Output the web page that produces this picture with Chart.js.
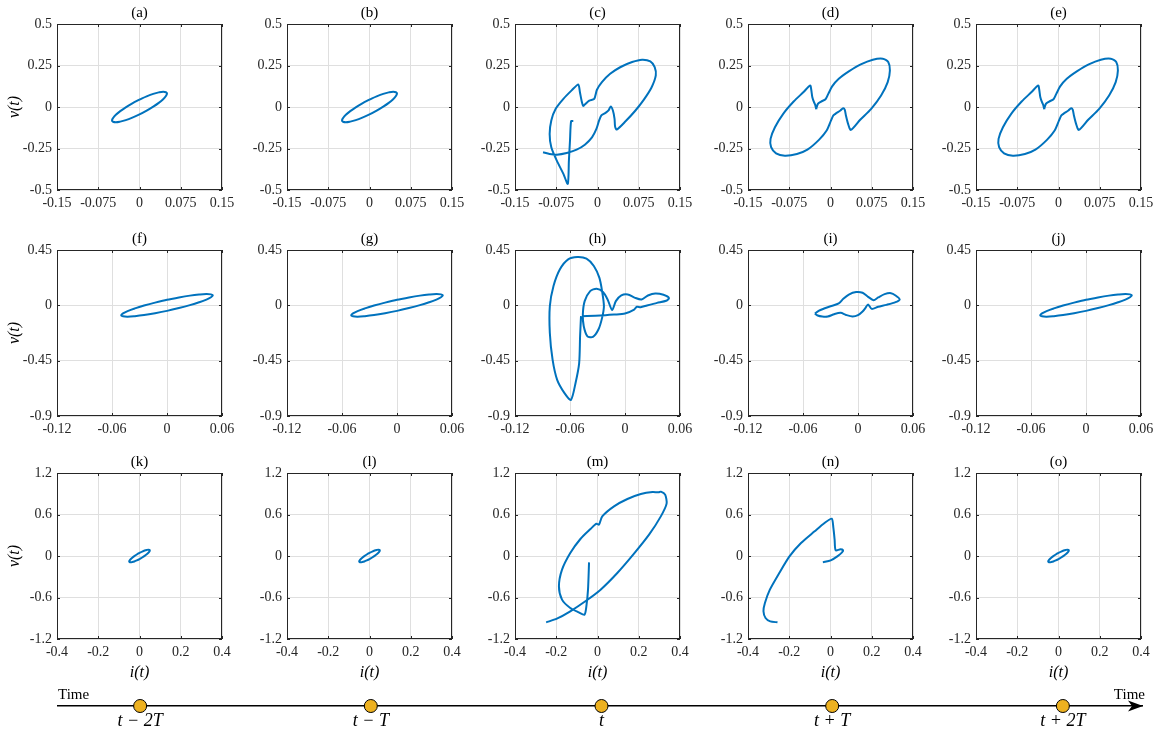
<!DOCTYPE html>
<html>
<head>
<meta charset="utf-8">
<script src="https://cdn.jsdelivr.net/npm/chart.js@4.4.1/dist/chart.umd.min.js"></script>
<style>
  body { margin: 0; background: #fff; }
  #figure { position: relative; width: 1168px; height: 736px; overflow: hidden; background: #fff; }
  #figure canvas { position: absolute; }
</style>
</head>
<body>
<div id="figure"></div>
<script>
// panel titles, row by row
const panelTitles = ['(a)', '(b)', '(c)', '(d)', '(e)',
                     '(f)', '(g)', '(h)', '(i)', '(j)',
                     '(k)', '(l)', '(m)', '(n)', '(o)'];

// axis ranges and ticks per row
const xRanges = [[-0.15, 0.15], [-0.12, 0.06], [-0.4, 0.4]];
const yRanges = [[-0.5, 0.5], [-0.9, 0.45], [-1.2, 1.2]];
const xTicksByRow = [[-0.15, -0.075, 0, 0.075, 0.15], [-0.12, -0.06, 0, 0.06], [-0.4, -0.2, 0, 0.2, 0.4]];
const yTicksByRow = [[-0.5, -0.25, 0, 0.25, 0.5], [-0.9, -0.45, 0, 0.45], [-1.2, -0.6, 0, 0.6, 1.2]];

// v-i trajectories, [i, v] pairs
const steadyLoop = [
  [0.000, 0.045], [-0.013, 0.022], [-0.025, -0.002], [-0.035, -0.025], [-0.043, -0.047], [-0.048, -0.066],
  [-0.050, -0.081], [-0.048, -0.089], [-0.043, -0.092], [-0.035, -0.088], [-0.025, -0.079], [-0.013, -0.064],
  [0.000, -0.045], [0.013, -0.022], [0.025, 0.002], [0.035, 0.025], [0.043, 0.047], [0.048, 0.066],
  [0.050, 0.081], [0.048, 0.089], [0.043, 0.092], [0.035, 0.088], [0.025, 0.079], [0.013, 0.064],
  [0.000, 0.045]
];

const loopC = [
  [-0.099, -0.273], [-0.087, -0.283], [-0.074, -0.287], [-0.056, -0.277], [-0.038, -0.257], [-0.023, -0.227],
  [-0.010, -0.183], [-0.002, -0.132], [0.003, -0.081], [0.007, -0.051], [0.014, -0.037], [0.020, -0.021],
  [0.024, 0.003], [0.028, -0.021], [0.031, -0.071], [0.032, -0.118], [0.035, -0.136], [0.051, -0.086],
  [0.069, -0.021], [0.084, 0.043], [0.098, 0.116], [0.106, 0.190], [0.104, 0.240], [0.096, 0.275],
  [0.081, 0.285], [0.063, 0.271], [0.042, 0.241], [0.023, 0.200], [0.008, 0.150], [-0.001, 0.104],
  [-0.006, 0.049], [-0.015, 0.039], [-0.023, 0.015], [-0.026, 0.007], [-0.029, 0.039], [-0.032, 0.090],
  [-0.035, 0.136], [-0.047, 0.100], [-0.062, 0.049], [-0.076, -0.011], [-0.084, -0.081], [-0.087, -0.162],
  [-0.084, -0.242], [-0.074, -0.323], [-0.062, -0.403], [-0.054, -0.463], [-0.052, -0.323], [-0.050, -0.202],
  [-0.048, -0.085], [-0.044, -0.085]
];

const loopD = [
  [-0.026, -0.013], [-0.023, 0.019], [-0.017, 0.033], [-0.009, 0.047], [-0.004, 0.079], [0.003, 0.124],
  [0.015, 0.170], [0.034, 0.216], [0.055, 0.257], [0.077, 0.285], [0.095, 0.291], [0.105, 0.271],
  [0.108, 0.220], [0.104, 0.150], [0.092, 0.069], [0.074, -0.011], [0.054, -0.077], [0.037, -0.138],
  [0.032, -0.102], [0.028, -0.051], [0.026, -0.017], [0.023, -0.007], [0.018, -0.021], [0.009, -0.041],
  [0.005, -0.051], [0.001, -0.081], [-0.007, -0.142], [-0.021, -0.198], [-0.042, -0.257], [-0.061, -0.283],
  [-0.083, -0.293], [-0.099, -0.279], [-0.108, -0.242], [-0.109, -0.192], [-0.101, -0.122], [-0.086, -0.041],
  [-0.067, 0.033], [-0.049, 0.090], [-0.037, 0.130], [-0.035, 0.104], [-0.033, 0.059], [-0.030, 0.029],
  [-0.028, 0.015], [-0.026, -0.013]
];

const loopH = [
  [-0.048, -0.088], [-0.049, -0.252], [-0.050, -0.470], [-0.054, -0.633], [-0.059, -0.769], [-0.066, -0.714],
  [-0.074, -0.606], [-0.079, -0.442], [-0.082, -0.225], [-0.082, -0.007], [-0.078, 0.157], [-0.071, 0.293],
  [-0.062, 0.374], [-0.052, 0.393], [-0.042, 0.380], [-0.034, 0.320], [-0.028, 0.225], [-0.025, 0.116],
  [-0.023, -0.007], [-0.025, -0.102], [-0.029, -0.197], [-0.035, -0.257], [-0.041, -0.252], [-0.045, -0.170],
  [-0.046, -0.075], [-0.044, 0.034], [-0.038, 0.116], [-0.031, 0.135], [-0.024, 0.108], [-0.019, 0.048],
  [-0.014, -0.039], [-0.010, 0.034], [-0.004, 0.080], [0.003, 0.088], [0.011, 0.061], [0.018, 0.048],
  [0.025, 0.080], [0.033, 0.097], [0.042, 0.086], [0.048, 0.059], [0.045, 0.037], [0.035, 0.020],
  [0.024, -0.001], [0.017, -0.015], [0.013, -0.012], [0.010, -0.034], [0.000, -0.067], [-0.012, -0.075],
  [-0.027, -0.083], [-0.047, -0.088]
];

const loopI = [
  [-0.047, -0.067], [-0.043, -0.045], [-0.037, -0.026], [-0.030, -0.007], [-0.021, 0.015], [-0.016, 0.053],
  [-0.010, 0.088], [-0.002, 0.108], [0.005, 0.102], [0.011, 0.069], [0.017, 0.042], [0.022, 0.064],
  [0.029, 0.091], [0.036, 0.099], [0.041, 0.080], [0.0455, 0.048], [0.041, 0.026], [0.031, 0.004],
  [0.022, -0.012], [0.015, -0.029], [0.011, 0.007], [0.008, -0.023], [0.005, -0.050], [0.000, -0.080],
  [-0.006, -0.091], [-0.013, -0.078], [-0.019, -0.061], [-0.026, -0.072], [-0.033, -0.091], [-0.039, -0.091],
  [-0.044, -0.083], [-0.047, -0.067]
];

const loopM = [
  [-0.249, -0.959], [-0.197, -0.906], [-0.132, -0.800], [-0.059, -0.655], [0.015, -0.487], [0.096, -0.246],
  [0.177, 0.034], [0.250, 0.308], [0.307, 0.573], [0.335, 0.757], [0.328, 0.887], [0.307, 0.930],
  [0.296, 0.920], [0.267, 0.925], [0.210, 0.896], [0.145, 0.824], [0.080, 0.718], [0.023, 0.573],
  [0.007, 0.453], [-0.005, 0.467], [-0.034, 0.390], [-0.083, 0.246], [-0.132, 0.043], [-0.172, -0.198],
  [-0.187, -0.439], [-0.172, -0.631], [-0.132, -0.752], [-0.091, -0.814], [-0.063, -0.848], [-0.054, -0.728],
  [-0.046, -0.487], [-0.041, -0.092]
];

const loopN = [
  [-0.037, -0.092], [0.001, -0.063], [0.033, -0.005], [0.056, 0.053], [0.061, 0.082], [0.048, 0.096],
  [0.025, 0.082], [0.020, 0.236], [0.014, 0.405], [0.006, 0.540], [-0.029, 0.477], [-0.077, 0.357],
  [-0.143, 0.188], [-0.199, -0.005], [-0.253, -0.270], [-0.294, -0.487], [-0.318, -0.680], [-0.325, -0.800],
  [-0.315, -0.896], [-0.292, -0.945], [-0.257, -0.959]
];

const panelCurves = [steadyLoop, steadyLoop, loopC, loopD, loopD,
                     steadyLoop, steadyLoop, loopH, loopI, steadyLoop,
                     steadyLoop, steadyLoop, loopM, loopN, steadyLoop];

// time axis at the bottom
const timePoints = [-2, -1, 0, 1, 2];
const timeLabels = ['t \u2212 2T', 't \u2212 T', 't', 't + T', 't + 2T'];

// layout
const colLeft = [57, 287, 515, 748, 976];
const rowTop = [24, 250, 473];
const PLOT_W = 165, PLOT_H = 166;
const AXIS_W = 56, PAD_TOP = 24, PAD_RIGHT = 24, AXIS_H = 45;
const SERIF = '"Liberation Serif", "DejaVu Serif", serif';
const LINE_BLUE = '#0072BD';
const GRID_GREY = '#dfdfdf';

const figure = document.getElementById('figure');

function makeCanvas(left, top, width, height) {
  const c = document.createElement('canvas');
  c.width = width;
  c.height = height;
  c.style.left = left + 'px';
  c.style.top = top + 'px';
  c.style.width = width + 'px';
  c.style.height = height + 'px';
  figure.appendChild(c);
  return c;
}

// box, inward ticks, panel title and axis labels
const framePlugin = {
  id: 'frame',
  afterDraw(chart, args, opts) {
    const { ctx, chartArea: a, scales } = chart;
    ctx.save();
    ctx.strokeStyle = '#262626';
    ctx.lineWidth = 1;
    ctx.strokeRect(a.left + 0.5, a.top + 0.5, a.right - a.left - 1, a.bottom - a.top - 1);
    ctx.beginPath();
    scales.x.ticks.forEach(t => {
      const px = Math.round(scales.x.getPixelForValue(t.value)) + 0.5;
      ctx.moveTo(px, a.bottom); ctx.lineTo(px, a.bottom - 3);
      ctx.moveTo(px, a.top); ctx.lineTo(px, a.top + 3);
    });
    scales.y.ticks.forEach(t => {
      const py = Math.round(scales.y.getPixelForValue(t.value)) + 0.5;
      ctx.moveTo(a.left, py); ctx.lineTo(a.left + 3, py);
      ctx.moveTo(a.right, py); ctx.lineTo(a.right - 3, py);
    });
    ctx.stroke();

    const cx = (a.left + a.right) / 2;
    ctx.fillStyle = '#000';
    ctx.textAlign = 'center';
    ctx.textBaseline = 'alphabetic';
    ctx.font = '15px ' + SERIF;
    ctx.fillText(opts.title, cx, a.top - 7);

    ctx.font = 'italic 16px ' + SERIF;
    ctx.textBaseline = 'middle';
    if (opts.yLabel) {
      ctx.save();
      ctx.translate(a.left - 42, (a.top + a.bottom) / 2);
      ctx.rotate(-Math.PI / 2);
      ctx.fillText(opts.yLabel, 0, 0);
      ctx.restore();
    }
    if (opts.xLabel) {
      ctx.fillText(opts.xLabel, cx, a.bottom + 34);
    }
    ctx.restore();
  }
};

function drawPanel(index) {
  const row = Math.floor(index / 5);
  const col = index % 5;
  const width = AXIS_W + PLOT_W + PAD_RIGHT;
  const height = PAD_TOP + PLOT_H + AXIS_H;
  const canvas = makeCanvas(colLeft[col] - AXIS_W, rowTop[row] - PAD_TOP, width, height);
  const tickFont = { family: SERIF, size: 14 };

  new Chart(canvas, {
    type: 'scatter',
    data: {
      datasets: [{
        data: panelCurves[index].map(p => ({ x: p[0], y: p[1] })),
        showLine: true,
        borderColor: LINE_BLUE,
        borderWidth: 2,
        pointRadius: 0,
        pointHoverRadius: 0,
        tension: panelCurves[index] === steadyLoop ? 0.4 : 0.25
      }]
    },
    options: {
      responsive: false,
      animation: false,
      events: [],
      layout: { padding: { left: 0, right: PAD_RIGHT, top: PAD_TOP, bottom: 0 } },
      plugins: {
        legend: { display: false },
        tooltip: { enabled: false },
        frame: {
          title: panelTitles[index],
          yLabel: col === 0 ? 'v(t)' : null,
          xLabel: row === 2 ? 'i(t)' : null
        }
      },
      scales: {
        x: {
          type: 'linear',
          min: xRanges[row][0],
          max: xRanges[row][1],
          afterBuildTicks: axis => { axis.ticks = xTicksByRow[row].map(v => ({ value: v })); },
          afterFit: axis => { axis.height = AXIS_H; },
          grid: { color: GRID_GREY, drawTicks: false },
          border: { display: false },
          ticks: {
            autoSkip: false, maxRotation: 0, minRotation: 0, padding: 5,
            color: '#262626', font: tickFont,
            callback: v => String(v)
          }
        },
        y: {
          type: 'linear',
          min: yRanges[row][0],
          max: yRanges[row][1],
          afterBuildTicks: axis => { axis.ticks = yTicksByRow[row].map(v => ({ value: v })); },
          afterFit: axis => { axis.width = AXIS_W; },
          grid: { color: GRID_GREY, drawTicks: false },
          border: { display: false },
          ticks: {
            autoSkip: false, padding: 5,
            color: '#262626', font: tickFont,
            callback: v => String(v)
          }
        }
      }
    },
    plugins: [framePlugin]
  });
}

// arrow head and "Time" words on the time axis
const timeAxisPlugin = {
  id: 'timeAxis',
  afterDraw(chart) {
    const { ctx, chartArea: a } = chart;
    const y = a.bottom;
    ctx.save();
    ctx.fillStyle = '#000';
    ctx.beginPath();
    ctx.moveTo(a.right + 1, y);
    ctx.lineTo(a.right - 14, y - 5.5);
    ctx.lineTo(a.right - 10, y);
    ctx.lineTo(a.right - 14, y + 5.5);
    ctx.closePath();
    ctx.fill();
    ctx.font = '15px ' + SERIF;
    ctx.textBaseline = 'alphabetic';
    ctx.textAlign = 'left';
    ctx.fillText('Time', a.left, y - 7);
    ctx.textAlign = 'right';
    ctx.fillText('Time', a.right + 3, y - 7);
    ctx.restore();
  }
};

function drawTimeline() {
  const canvas = makeCanvas(0, 680, 1168, 56);
  new Chart(canvas, {
    type: 'scatter',
    data: {
      datasets: [{
        data: timePoints.map(t => ({ x: t, y: 0 })),
        pointRadius: 6.5,
        pointHoverRadius: 6.5,
        pointBackgroundColor: '#EDB120',
        pointBorderColor: '#000',
        pointBorderWidth: 1,
        clip: false
      }]
    },
    options: {
      responsive: false,
      animation: false,
      events: [],
      layout: { padding: { left: 58, right: 26, top: 2, bottom: 0 } },
      plugins: { legend: { display: false }, tooltip: { enabled: false } },
      scales: {
        x: {
          type: 'linear',
          min: -2.356,
          max: 2.343,
          afterBuildTicks: axis => { axis.ticks = timePoints.map(v => ({ value: v })); },
          afterFit: axis => { axis.height = 30; },
          grid: { display: false, drawTicks: false },
          border: { display: true, color: '#000', width: 1.5 },
          ticks: {
            autoSkip: false, maxRotation: 0, padding: 4,
            color: '#000', font: { family: SERIF, size: 18, style: 'italic' },
            callback: (v, i) => timeLabels[i]
          }
        },
        y: { display: false, min: 0, max: 1 }
      }
    },
    plugins: [timeAxisPlugin]
  });
}

panelTitles.forEach((t, i) => drawPanel(i));
drawTimeline();
</script>
</body>
</html>
